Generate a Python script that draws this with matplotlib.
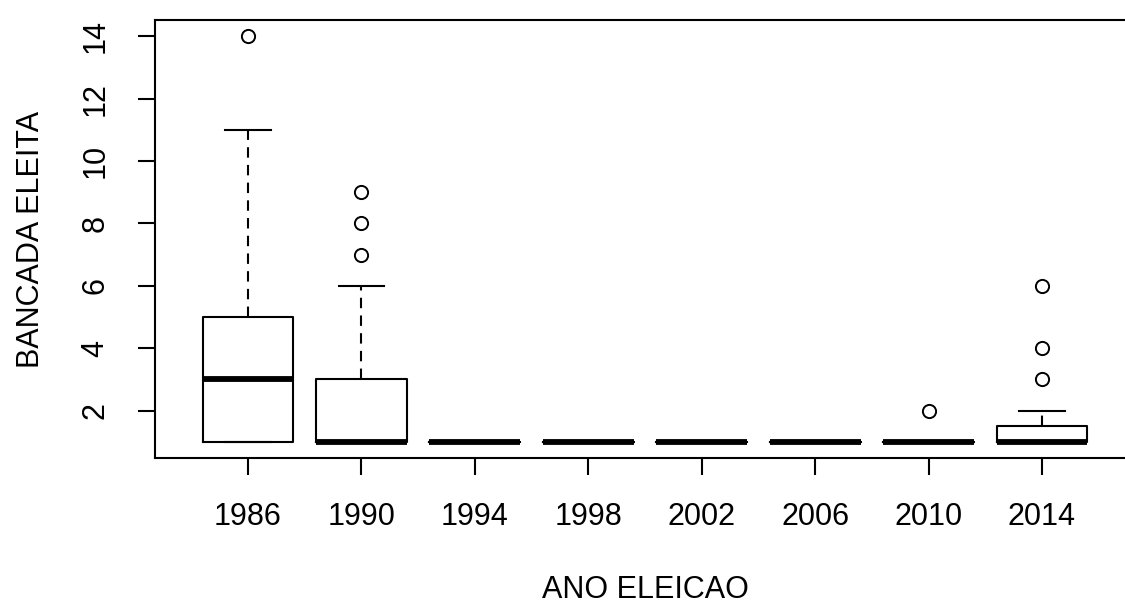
import matplotlib

matplotlib.use("Agg")

import matplotlib.pyplot as plt

# boxplot summary per election year
years = ["1986", "1990", "1994", "1998", "2002", "2006", "2010", "2014"]
whislo = [1, 1, 1, 1, 1, 1, 1, 1]
q1 = [1, 1, 1, 1, 1, 1, 1, 1]
med = [3, 1, 1, 1, 1, 1, 1, 1]
q3 = [5, 3, 1, 1, 1, 1, 1, 1.5]
whishi = [11, 6, 1, 1, 1, 1, 1, 2]
fliers = [[14], [7, 8, 9], [], [], [], [], [2], [3, 4, 6]]

yticks = [2, 4, 6, 8, 10, 12, 14]

plt.rcParams["font.family"] = ["Liberation Sans", "DejaVu Sans"]

stats = []
for i in range(len(years)):
    stats.append(
        dict(
            label=years[i],
            whislo=whislo[i],
            q1=q1[i],
            med=med[i],
            q3=q3[i],
            whishi=whishi[i],
            fliers=fliers[i],
        )
    )

fig = plt.figure(figsize=(11.25, 6.03), dpi=100, facecolor="white")
# the original plot runs a little past the right edge of the picture
ax = fig.add_axes([155 / 1125, 1 - 458 / 603, 980 / 1125, 438 / 603])

lw = 1.5
ax.bxp(
    stats,
    positions=range(1, len(years) + 1),
    widths=0.8,
    capwidths=0.4,
    showfliers=True,
    patch_artist=False,
    boxprops=dict(color="black", linewidth=lw),
    medianprops=dict(color="black", linewidth=4.2, solid_capstyle="butt"),
    whiskerprops=dict(color="black", linewidth=lw, linestyle=(0, (5, 3.5))),
    capprops=dict(color="black", linewidth=lw),
    flierprops=dict(
        marker="o",
        markersize=9.5,
        markerfacecolor="none",
        markeredgecolor="black",
        markeredgewidth=1.4,
        linestyle="none",
    ),
)

ax.set_xlim(0.18, 8.82)
ax.set_ylim(0.48, 14.52)
ax.set_yticks(yticks)
ax.set_yticklabels([str(v) for v in yticks], rotation=90, va="center")
ax.set_xticks(range(1, len(years) + 1))
ax.set_xticklabels(years)

ax.tick_params(axis="both", length=12, width=lw, pad=20, labelsize=22, color="black")
for sp in ax.spines.values():
    sp.set_linewidth(lw)
    sp.set_color("black")

ax.set_xlabel("ANO ELEICAO", fontsize=22, va="baseline")
ax.set_ylabel("BANCADA ELEITA", fontsize=22, va="center")
ax.xaxis.set_label_coords(0.5, -(598 - 458) / 438)
ax.yaxis.set_label_coords(-0.127, 0.5)

fig.savefig("out.png", dpi=100, facecolor="white")
